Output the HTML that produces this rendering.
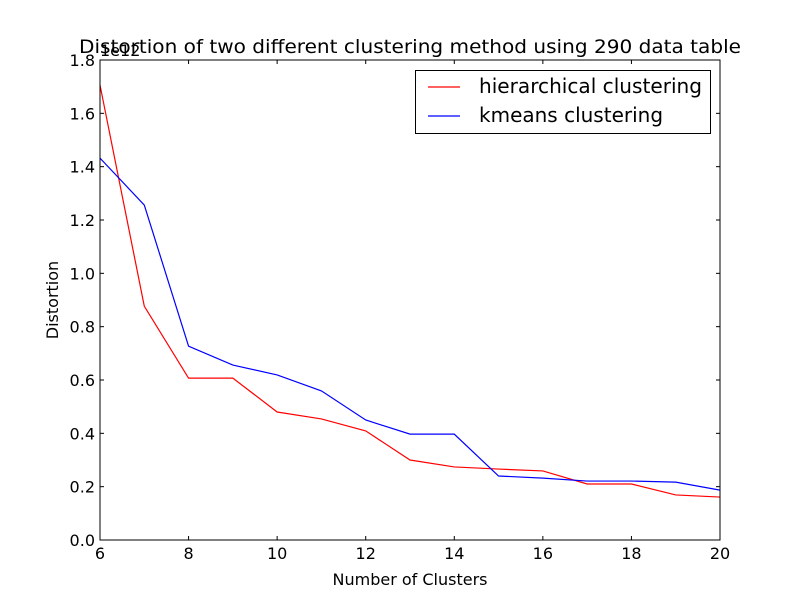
<!DOCTYPE html>
<html><head><meta charset="utf-8"><style>
body{margin:0;background:#fff;}
svg{display:block;font-family:"DejaVu Sans","Liberation Sans",sans-serif;}
</style></head><body>
<svg id="c" width="800" height="600" viewBox="0 0 800 600">
<rect width="800" height="600" fill="#fff"/>
<g id="plot"></g>
</svg>
<script>
const clusters=[6,7,8,9,10,11,12,13,14,15,16,17,18,19,20];
const hierarchical=[1.706,0.877,0.607,0.607,0.48,0.454,0.409,0.30,0.274,0.266,0.259,0.21,0.21,0.169,0.161];
const kmeans=[1.432,1.256,0.727,0.656,0.619,0.559,0.45,0.397,0.397,0.24,0.232,0.221,0.221,0.217,0.187];
const xTicks=[6,8,10,12,14,16,18,20];
const yTicks=[0.0,0.2,0.4,0.6,0.8,1.0,1.2,1.4,1.6,1.8];
const L=100,R=720,T=60,B=540;
const sx=v=>L+(v-6)/14*(R-L);
const sy=v=>B-v/1.8*(B-T);
const NS="http://www.w3.org/2000/svg";
const g=document.getElementById('plot');
function mk(tag,attrs,text){const e=document.createElementNS(NS,tag);for(const k in attrs)e.setAttribute(k,attrs[k]);if(text!==undefined)e.textContent=text;g.appendChild(e);return e;}
function series(vals,color,name){
  const p=mk('polyline',{points:clusters.map((c,i)=>sx(c)+','+sy(vals[i])).join(' '),fill:'none',stroke:color,'stroke-width':1.2});
  
  
}
series(hierarchical,'#ff0000','hierarchical-line');
series(kmeans,'#0000ff','kmeans-line');
const frame=mk('rect',{x:L,y:T,width:R-L,height:B-T,fill:'none',stroke:'#000','stroke-width':1});


xTicks.forEach(t=>{
  const x=sx(t);
  mk('line',{x1:x,y1:B,x2:x,y2:B-4,stroke:'#000'});
  mk('line',{x1:x,y1:T,x2:x,y2:T+4,stroke:'#000'});
  const l=mk('text',{x:x,y:B+19,'font-size':16,'text-anchor':'middle'},String(t));
  
  
});
yTicks.forEach(t=>{
  const y=sy(t);
  mk('line',{x1:L,y1:y,x2:L+4,y2:y,stroke:'#000'});
  mk('line',{x1:R,y1:y,x2:R-4,y2:y,stroke:'#000'});
  const l=mk('text',{x:L-5,y:y+6,'font-size':16,'text-anchor':'end'},t.toFixed(1));
  
  
});
</script>
<svg style="position:absolute;left:0;top:0" width="800" height="600">
<text x="100" y="56" font-size="16" font-family="DejaVu Sans,sans-serif">1e12</text>
<text x="410" y="53" font-size="19" text-anchor="middle" font-family="DejaVu Sans,sans-serif" textLength="662" lengthAdjust="spacingAndGlyphs">Distortion of two different clustering method using 290 data table</text>
<text x="410" y="585" font-size="16" text-anchor="middle" font-family="DejaVu Sans,sans-serif">Number of Clusters</text>
<text x="58" y="300" font-size="16" text-anchor="middle" font-family="DejaVu Sans,sans-serif" transform="rotate(-90 58 300)">Distortion</text>
<g>
<rect x="415.5" y="70.5" width="295" height="63" fill="#fff" stroke="#000"/>
<line x1="428" y1="87" x2="460" y2="87" stroke="#f00" stroke-width="1.2"/>
<text x="479" y="93" font-size="20" font-family="DejaVu Sans,sans-serif" textLength="223" lengthAdjust="spacingAndGlyphs">hierarchical clustering</text>
<line x1="428" y1="116" x2="460" y2="116" stroke="#00f" stroke-width="1.2"/>
<text x="479" y="122" font-size="20" font-family="DejaVu Sans,sans-serif">kmeans clustering</text>
</g>
</svg>
</body></html>
